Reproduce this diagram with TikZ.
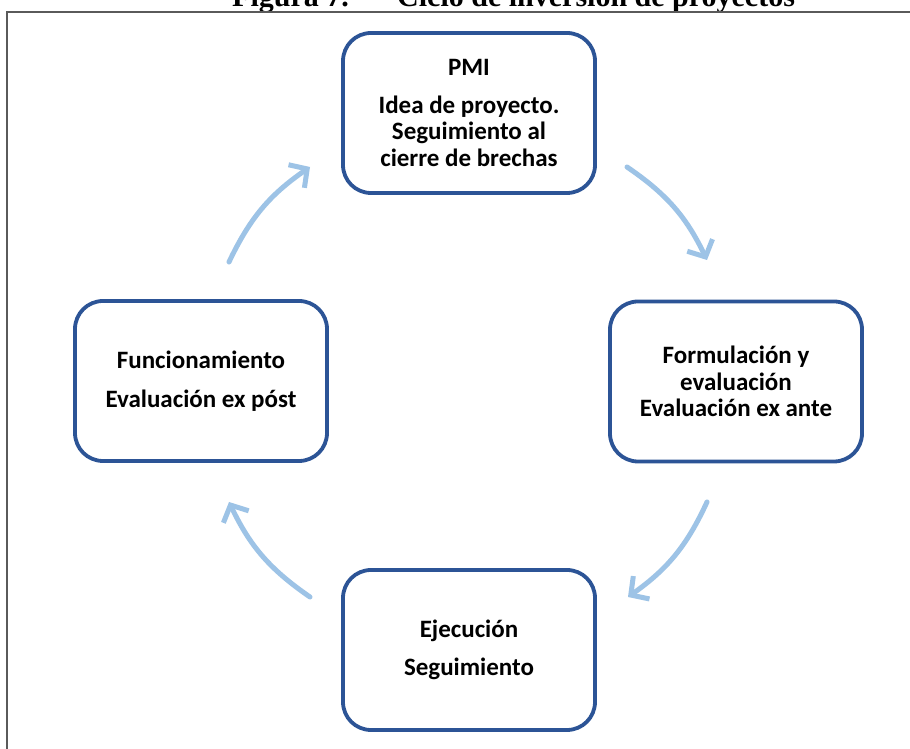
\documentclass[tikz,border=0pt]{standalone}
\usepackage{fontspec}
\setmainfont{Carlito}
\newfontfamily\timesfont{Liberation Serif}
\usetikzlibrary{arrows.meta}
\definecolor{boxblue}{RGB}{44,84,150}
\definecolor{arrowblue}{RGB}{157,195,230}
\definecolor{framegray}{RGB}{90,90,90}
\begin{document}
\begin{tikzpicture}[x=1pt,y=1pt,
  stage/.style={draw=boxblue, line width=3.8pt, rounded corners=28pt,
    minimum width=252pt, minimum height=160pt, align=center,
    font=\bfseries\fontsize{25}{26.5}\selectfont, inner sep=0pt},
  cyc/.style={draw=arrowblue, line width=5pt, line cap=round,
    -{Straight Barb[length=13pt,width=28pt]}, bend left=15},
  titletext/.style={anchor=base west, inner sep=0pt,
    font=\timesfont\bfseries\fontsize{30}{30}\selectfont}]
\useasboundingbox (0,0) rectangle (910,749);
\clip (0,0) rectangle (910,749);
\fill[white] (0,0) rectangle (910,749);
% cut-off caption
\node[titletext] (fig) at (232,742) {Figura 7.};
\node[titletext] (title) at (397,742) {Ciclo de inversión de proyectos};
% frame
\draw[framegray, line width=1.5pt] (7,0) -- (7,737) -- (910,737);
% stages
\node[stage] (pmi) at (469,636) {PMI\\[11pt]Idea de proyecto.\\Seguimiento al\\cierre de brechas};
\node[stage] (form) at (736,367.5) {Formulación y\\evaluación\\Evaluación ex ante};
\node[stage] (func) at (201,368) {Funcionamiento\\[12pt]Evaluación ex póst};
\node[stage] (ejec) at (469,99) {Ejecución\\[11pt]Seguimiento};
% arrow end points
\coordinate (a1s) at (627,582);
\coordinate (a1e) at (707,489);
\coordinate (a2s) at (707,247);
\coordinate (a2e) at (628,152);
\coordinate (a3s) at (310,152);
\coordinate (a3e) at (229,247);
\coordinate (a4s) at (229,487);
\coordinate (a4e) at (310,582);
\draw[cyc] (a1s) to (a1e);
\draw[cyc] (a2s) to (a2e);
\draw[cyc] (a3s) to (a3e);
\draw[cyc] (a4s) to (a4e);
\end{tikzpicture}
\end{document}
